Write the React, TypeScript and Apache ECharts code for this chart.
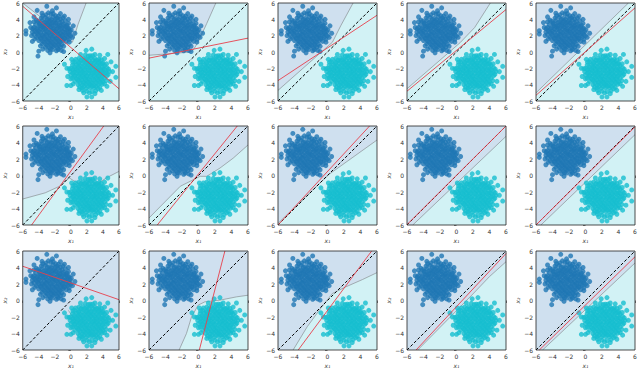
import React, { useEffect, useRef } from "react";
import * as echarts from "echarts";

// ---- data ----
const tickValues = [-6, -4, -2, 0, 2, 4, 6];

const bluePts: number[][] = [
  [-3.1, 4.55], [-2.5, 4.65], [-1.9, 4.45], [-2.8, 4.8],
  [-3.7, 4.15], [-3.2, 4.25], [-2.7, 4.1], [-2.2, 4.3], [-1.7, 4.15], [-1.3, 4.05],
  [-4.1, 3.75], [-3.6, 3.85], [-3.1, 3.7], [-2.6, 3.8], [-2.1, 3.75], [-1.6, 3.9], [-1.1, 3.7], [-0.7, 3.85],
  [-4.4, 3.35], [-3.9, 3.45], [-3.4, 3.3], [-2.9, 3.4], [-2.4, 3.35], [-1.9, 3.5], [-1.4, 3.3], [-0.9, 3.4], [-0.5, 3.3],
  [-4.6, 3.0], [-4.1, 2.95], [-3.6, 3.1], [-3.1, 2.95], [-2.6, 3.05], [-2.1, 2.9], [-1.6, 3.05], [-1.1, 2.95], [-0.6, 3.1], [-0.2, 2.9],
  [-4.5, 2.6], [-4.0, 2.55], [-3.5, 2.7], [-3.0, 2.5], [-2.5, 2.65], [-2.0, 2.55], [-1.5, 2.6], [-1.0, 2.5], [-0.5, 2.7], [-0.1, 2.5],
  [-4.6, 2.15], [-4.1, 2.25], [-3.6, 2.1], [-3.1, 2.2], [-2.6, 2.15], [-2.1, 2.3], [-1.6, 2.2], [-1.1, 2.1], [-0.6, 2.25], [-0.2, 2.15],
  [-4.3, 1.8], [-3.8, 1.75], [-3.3, 1.85], [-2.8, 1.7], [-2.3, 1.8], [-1.8, 1.75], [-1.3, 1.85], [-0.8, 1.7], [-0.4, 1.8],
  [-4.0, 1.4], [-3.5, 1.35], [-3.0, 1.45], [-2.5, 1.3], [-2.0, 1.4], [-1.5, 1.35], [-1.0, 1.45], [-0.6, 1.3],
  [-3.6, 1.0], [-3.1, 0.95], [-2.6, 1.05], [-2.1, 0.9], [-1.6, 1.0], [-1.1, 0.95],
  [-3.2, 0.6], [-2.7, 0.55], [-2.2, 0.65], [-1.7, 0.5], [-1.3, 0.6],
  [-2.9, 0.2], [-2.3, 0.3], [-1.8, 0.15],
  [-3.35, 3.6], [-2.85, 3.55], [-2.35, 3.6], [-1.85, 3.55], [-1.35, 3.6],
  [-3.85, 3.2], [-3.35, 3.15], [-2.85, 3.2], [-2.35, 3.2], [-1.85, 3.2], [-1.35, 3.15], [-0.85, 3.2],
  [-4.25, 2.8], [-3.75, 2.85], [-3.25, 2.8], [-2.75, 2.8], [-2.25, 2.75], [-1.75, 2.85], [-1.25, 2.8], [-0.75, 2.8], [-0.35, 2.85],
  [-4.3, 2.4], [-3.8, 2.4], [-3.3, 2.4], [-2.8, 2.35], [-2.3, 2.45], [-1.8, 2.4], [-1.3, 2.35], [-0.8, 2.4], [-0.35, 2.35],
  [-4.05, 2.0], [-3.55, 1.95], [-3.05, 2.0], [-2.55, 2.0], [-2.05, 1.95], [-1.55, 2.0], [-1.05, 1.95], [-0.55, 2.0],
  [-3.75, 1.6], [-3.25, 1.6], [-2.75, 1.55], [-2.25, 1.6], [-1.75, 1.6], [-1.25, 1.55], [-0.8, 1.6],
  [-3.35, 1.2], [-2.85, 1.2], [-2.35, 1.15], [-1.85, 1.2], [-1.35, 1.2],
  [-2.95, 0.8], [-2.45, 0.8], [-1.95, 0.8], [-1.5, 0.8],
  [-2.95, 4.0], [-2.45, 3.95], [-1.95, 4.0], [-3.5, 4.45], [-2.2, 4.7], [-1.55, 4.4], [-4.3, 3.9],
  [-4.8, 2.45], [-4.75, 2.85], [-4.5, 1.6], [-0.3, 3.5], [0.05, 2.7], [0.0, 2.0], [-0.2, 1.55],
  [-3.8, 0.75], [-0.9, 0.7], [-2.55, 0.35], [-1.6, 0.3], [-3.9, 3.55], [-1.0, 4.2],
  [-3.0, 5.6], [-1.8, 5.4], [-4.2, 5.1], [-2.3, 5.05], [-3.6, 4.75], [-1.3, 4.7], [-0.8, 4.4], [-4.6, 4.3],
  [-5.6, 2.6], [-5.6, 2.2], [-5.0, 3.0], [-4.9, 2.0], [-4.0, 0.1], [-4.1, -0.5], [-3.5, 0.35], [-2.6, -0.1],
  [-1.2, 0.2], [-0.9, 0.05], [0.5, 2.3], [0.2, 1.8], [0.3, 3.2], [-0.3, 4.0], [-4.8, 1.3], [-4.6, 3.7],
  [-0.2, 1.2], [-5.1, 3.6],
];

const cyanPts: number[][] = [
  [1.8, -0.35], [2.4, -0.45], [3.0, -0.3],
  [1.0, -0.8], [1.5, -0.75], [2.0, -0.85], [2.5, -0.7], [3.0, -0.8], [3.5, -0.9],
  [0.5, -1.2], [1.0, -1.25], [1.5, -1.1], [2.0, -1.2], [2.5, -1.3], [3.0, -1.15], [3.5, -1.2], [4.0, -1.3],
  [0.2, -1.6], [0.7, -1.55], [1.2, -1.7], [1.7, -1.6], [2.2, -1.55], [2.7, -1.65], [3.2, -1.6], [3.7, -1.5], [4.2, -1.65],
  [0.0, -2.0], [0.5, -2.05], [1.0, -1.95], [1.5, -2.1], [2.0, -2.0], [2.5, -1.95], [3.0, -2.05], [3.5, -2.0], [4.0, -2.1], [4.5, -1.95],
  [-0.1, -2.4], [0.4, -2.45], [0.9, -2.35], [1.4, -2.4], [1.9, -2.5], [2.4, -2.35], [2.9, -2.45], [3.4, -2.4], [3.9, -2.35], [4.4, -2.5], [4.8, -2.4],
  [0.0, -2.8], [0.5, -2.85], [1.0, -2.75], [1.5, -2.8], [2.0, -2.9], [2.5, -2.8], [3.0, -2.75], [3.5, -2.85], [4.0, -2.8], [4.5, -2.9],
  [0.2, -3.2], [0.7, -3.25], [1.2, -3.15], [1.7, -3.2], [2.2, -3.3], [2.7, -3.2], [3.2, -3.15], [3.7, -3.25], [4.2, -3.2],
  [0.5, -3.6], [1.0, -3.55], [1.5, -3.65], [2.0, -3.6], [2.5, -3.7], [3.0, -3.6], [3.5, -3.55], [4.0, -3.65],
  [0.9, -4.0], [1.4, -4.05], [1.9, -3.95], [2.4, -4.0], [2.9, -4.1], [3.4, -4.0], [3.9, -3.95],
  [1.4, -4.4], [1.9, -4.45], [2.4, -4.35], [2.9, -4.4], [3.4, -4.5],
  [2.0, -4.8], [2.6, -4.85], [3.1, -4.75],
  [1.25, -1.0], [1.75, -0.95], [2.25, -1.0], [2.75, -1.0], [3.25, -1.0],
  [0.95, -1.4], [1.45, -1.4], [1.95, -1.4], [2.45, -1.45], [2.95, -1.4], [3.45, -1.4], [3.95, -1.45],
  [0.45, -1.8], [0.95, -1.8], [1.45, -1.85], [1.95, -1.8], [2.45, -1.8], [2.95, -1.85], [3.45, -1.8], [3.95, -1.8],
  [0.25, -2.2], [0.75, -2.2], [1.25, -2.25], [1.75, -2.2], [2.25, -2.2], [2.75, -2.2], [3.25, -2.25], [3.75, -2.2], [4.25, -2.2],
  [0.25, -2.6], [0.75, -2.6], [1.25, -2.6], [1.75, -2.65], [2.25, -2.6], [2.75, -2.6], [3.25, -2.6], [3.75, -2.65], [4.25, -2.6],
  [0.45, -3.0], [0.95, -3.0], [1.45, -3.0], [1.95, -3.05], [2.45, -3.0], [2.95, -3.0], [3.45, -3.0], [3.95, -3.0],
  [0.85, -3.4], [1.35, -3.4], [1.85, -3.4], [2.35, -3.45], [2.85, -3.4], [3.35, -3.4], [3.85, -3.4],
  [1.15, -3.8], [1.65, -3.8], [2.15, -3.8], [2.65, -3.85], [3.15, -3.8], [3.65, -3.8],
  [1.65, -4.2], [2.15, -4.2], [2.65, -4.2], [3.15, -4.2],
  [4.45, -1.45], [4.7, -2.1], [4.65, -2.75], [4.4, -3.5], [4.2, -3.9], [0.0, -3.3], [-0.2, -2.05], [0.25, -1.25],
  [0.6, -0.9], [3.8, -0.95], [3.6, -4.35], [1.1, -4.3], [2.3, -5.0], [2.7, -0.45], [2.15, -0.5], [1.45, -4.7],
  [5.6, -1.75], [5.6, -3.1], [-0.5, -4.1], [0.0, -4.1], [2.0, -5.5], [2.6, -5.5], [1.9, 0.2], [2.6, 0.35],
  [1.2, -0.3], [3.6, -0.4], [4.2, -0.8], [5.0, -1.2], [5.2, -2.4], [4.9, -3.6], [4.5, -4.2], [3.8, -4.7],
  [1.0, -4.6], [0.3, -3.9], [-0.5, -2.0], [-0.4, -3.0], [0.1, -0.9], [3.0, -5.1], [1.6, -5.0], [4.6, -0.3],
  [-0.8, -1.5],
];

const diagonal: number[][] = [[-6, -6], [6, 6]];

const redLines: number[][][] = [
  [[-6, 5.6], [6, -4.5]],
  [[-6, -0.75], [6, 1.7]],
  [[-6, -3.5], [6, 4.5]],
  [[-6, -4.8], [6, 5.2]],
  [[-6, -5.3], [6, 5.4]],
  [[-4.9, -6], [4.1, 6]],
  [[-5.0, -6], [4.7, 6]],
  [[-6, -6], [5.1, 6]],
  [[-6, -5.95], [6, 6]],
  [[-6, -6], [6, 5.9]],
  [[-6, 4.15], [6, 0.1]],
  [[0.1, -6], [3.2, 6]],
  [[-3.55, -6], [5.35, 6]],
  [[-4.9, -6], [6, 5.7]],
  [[-5.6, -6], [6, 5.3]],
];

const grayLines: number[][][] = [
  [[1.9, 6], [0.9, 3.4], [0.2, 1.2], [-6, 6]],
  [[2.1, 6], [1.0, 3.5], [0.0, 1.3], [-0.6, 0.3], [-0.9, 0.0], [-6, -0.4]],
  [[3.1, 6], [1.6, 3.2], [0.6, 1.2], [-6, -4.7]],
  [[4.1, 6], [2.2, 3.0], [0.45, 1.15], [-6, -4.5]],
  [[5.2, 6], [-6, -5.0]],
  [[-6, -2.85], [-3.2, -2.1], [-1.4, -1.3], [-0.2, -0.3], [0.8, -0.9], [2.0, -1.3], [3.2, -1.1], [4.4, -0.3], [6, 0.5]],
  [[-6, -5.15], [-2.2, -1.3], [0.2, -0.1], [1.0, -0.1], [2.6, 0.9], [4.2, 2.1], [6, 3.7]],
  [[-6, -5.8], [0.2, 0.15], [6, 4.3]],
  [[-5.3, -6], [6, 4.75]],
  [[-5.4, -6], [6, 4.95]],
  [[-0.3, -1.2], [0.1, -1.8], [0.7, -2.6], [1.3, -3.3]],
  [[-2.35, -6], [-1.46, -4.0], [-0.85, -2.0], [-0.04, -0.56], [0.77, -0.16], [2.6, 0.04], [4.6, 0.44], [6, 0.64]],
  [[-4.17, -6], [-2.46, -3.18], [-0.84, -0.97], [0.59, 0.85], [2.21, 1.65], [4.24, 2.54], [6, 3.38]],
  [[-4.7, -6], [2.0, 0.8], [4.0, 2.9], [6, 4.7]],
  [[-5.2, -6], [6, 4.55]],
];

// true: background is the blue class, region polygon is the cyan class
const blueBackground = [false, false, false, false, false, false, false, false, false, false, true, true, false, false, false];

const regions: number[][][] = [
  [[-6, 6], [1.9, 6], [0.9, 3.4], [0.2, 1.2]],
  [[-6, 6], [2.1, 6], [1.0, 3.5], [0.0, 1.3], [-0.6, 0.3], [-0.9, 0.0], [-6, -0.4]],
  [[-6, 6], [3.1, 6], [1.6, 3.2], [0.6, 1.2], [-6, -4.7]],
  [[-6, 6], [4.1, 6], [2.2, 3.0], [0.45, 1.15], [-6, -4.5]],
  [[-6, 6], [5.2, 6], [-6, -5.0]],
  [[-6, 6], [6, 6], [6, 0.5], [4.4, -0.3], [3.2, -1.1], [2.0, -1.3], [0.8, -0.9], [-0.2, -0.3], [-1.4, -1.3], [-3.2, -2.1], [-6, -2.85]],
  [[-6, 6], [6, 6], [6, 3.7], [4.2, 2.1], [2.6, 0.9], [1.0, -0.1], [0.2, -0.1], [-2.2, -1.3], [-6, -5.15]],
  [[-6, 6], [6, 6], [6, 4.3], [0.2, 0.15], [-6, -5.8]],
  [[-6, 6], [6, 6], [6, 4.75], [-5.3, -6], [-6, -6]],
  [[-6, 6], [6, 6], [6, 4.95], [-5.4, -6], [-6, -6]],
  [[-0.3, -1.2], [0.3, -1.5], [0.9, -2.4], [1.3, -3.3], [0.7, -2.6], [0.1, -1.8]],
  [[-2.35, -6], [-1.46, -4.0], [-0.85, -2.0], [-0.04, -0.56], [0.77, -0.16], [2.6, 0.04], [4.6, 0.44], [6, 0.64], [6, -6]],
  [[-6, 6], [6, 6], [6, 3.38], [4.24, 2.54], [2.21, 1.65], [0.59, 0.85], [-0.84, -0.97], [-2.46, -3.18], [-4.17, -6], [-6, -6]],
  [[-6, 6], [6, 6], [6, 4.7], [4.0, 2.9], [2.0, 0.8], [-4.7, -6], [-6, -6]],
  [[-6, 6], [6, 6], [6, 4.55], [-5.2, -6], [-6, -6]],
];

// ---- layout & style ----
const COL_LEFT = [20, 149, 278, 407, 536];
const ROW_TOP = [2, 126, 251];
const SIZE = 99;
const BLUE_BG = "#cfe0ef";
const CYAN_BG = "#d2f2f5";
const BLUE = "#1f77b4";
const CYAN = "#17becf";

function buildOption() {
  const grid: any[] = [];
  const xAxis: any[] = [];
  const yAxis: any[] = [];
  const series: any[] = [];
  const fmt = (v: number) => (v < 0 ? "\u2212" + Math.abs(v) : String(v));

  for (let i = 0; i < 15; i++) {
    const r = Math.floor(i / 5);
    const c = i % 5;
    grid.push({ left: COL_LEFT[c], top: ROW_TOP[r], width: SIZE, height: SIZE });
    const axisCommon = {
      type: "value",
      gridIndex: i,
      min: tickValues[0],
      max: tickValues[tickValues.length - 1],
      interval: 2,
      splitLine: { show: false },
      axisLine: { show: false },
      axisTick: { show: true, length: 2.5, lineStyle: { color: "#222", width: 0.6 } },
      axisLabel: { fontSize: 6, color: "#333", margin: 3, formatter: fmt, fontFamily: "DejaVu Sans" },
      nameLocation: "middle",
      nameTextStyle: { fontSize: 6, color: "#333333", fontStyle: "italic", fontFamily: "DejaVu Sans" },
    };
    xAxis.push({ ...axisCommon, name: "x\u2081", nameGap: 12 });
    yAxis.push({ ...axisCommon, name: "x\u2082", nameGap: 13 });

    const bgColor = blueBackground[i] ? BLUE_BG : CYAN_BG;
    const regColor = blueBackground[i] ? CYAN_BG : BLUE_BG;
    const poly = regions[i];

    series.push({
      type: "custom",
      xAxisIndex: i,
      yAxisIndex: i,
      silent: true,
      z: 1,
      data: [[0, 0]],
      renderItem: (_p: any, api: any) => {
        const tl = api.coord([-6, 6]);
        const br = api.coord([6, -6]);
        return {
          type: "group",
          children: [
            {
              type: "rect",
              shape: { x: tl[0], y: tl[1], width: br[0] - tl[0], height: br[1] - tl[1] },
              style: { fill: bgColor },
            },
            {
              type: "polygon",
              shape: { points: poly.map((p) => api.coord(p)) },
              style: { fill: regColor },
            },
          ],
        };
      },
    });
    series.push({
      type: "line",
      xAxisIndex: i,
      yAxisIndex: i,
      data: grayLines[i],
      symbol: "none",
      silent: true,
      z: 2,
      lineStyle: { color: "#8a8f94", width: 0.7 },
    });
    series.push({
      type: "scatter",
      xAxisIndex: i,
      yAxisIndex: i,
      data: bluePts,
      symbolSize: 5,
      silent: true,
      z: 3,
      itemStyle: { color: BLUE },
    });
    series.push({
      type: "scatter",
      xAxisIndex: i,
      yAxisIndex: i,
      data: cyanPts,
      symbolSize: 5,
      silent: true,
      z: 3,
      itemStyle: { color: CYAN },
    });
    series.push({
      type: "line",
      xAxisIndex: i,
      yAxisIndex: i,
      data: diagonal,
      symbol: "none",
      silent: true,
      z: 4,
      lineStyle: { color: "#000", width: 1, type: [3, 2] },
    });
    series.push({
      type: "line",
      xAxisIndex: i,
      yAxisIndex: i,
      data: redLines[i],
      symbol: "none",
      silent: true,
      z: 5,
      lineStyle: { color: "#e8404c", width: 0.9 },
    });
    series.push({
      type: "custom",
      xAxisIndex: i,
      yAxisIndex: i,
      silent: true,
      z: 6,
      data: [[0, 0]],
      renderItem: (_p: any, api: any) => {
        const tl = api.coord([-6, 6]);
        const br = api.coord([6, -6]);
        return {
          type: "rect",
          shape: { x: tl[0], y: tl[1], width: br[0] - tl[0], height: br[1] - tl[1] },
          style: { fill: "none", stroke: "#222", lineWidth: 0.8 },
        };
      },
    });
  }

  return { animation: false, backgroundColor: "#fff", grid, xAxis, yAxis, series };
}

export default function App() {
  const ref = useRef<HTMLDivElement>(null);
  useEffect(() => {
    if (!ref.current) return;
    const chart = echarts.init(ref.current, undefined, { renderer: "svg" });
    chart.setOption(buildOption() as any);
    return () => chart.dispose();
  }, []);
  return (
    <div
      ref={ref}
      style={{ position: "absolute", left: 0, top: 0, width: 640, height: 369 }}
    />
  );
}
